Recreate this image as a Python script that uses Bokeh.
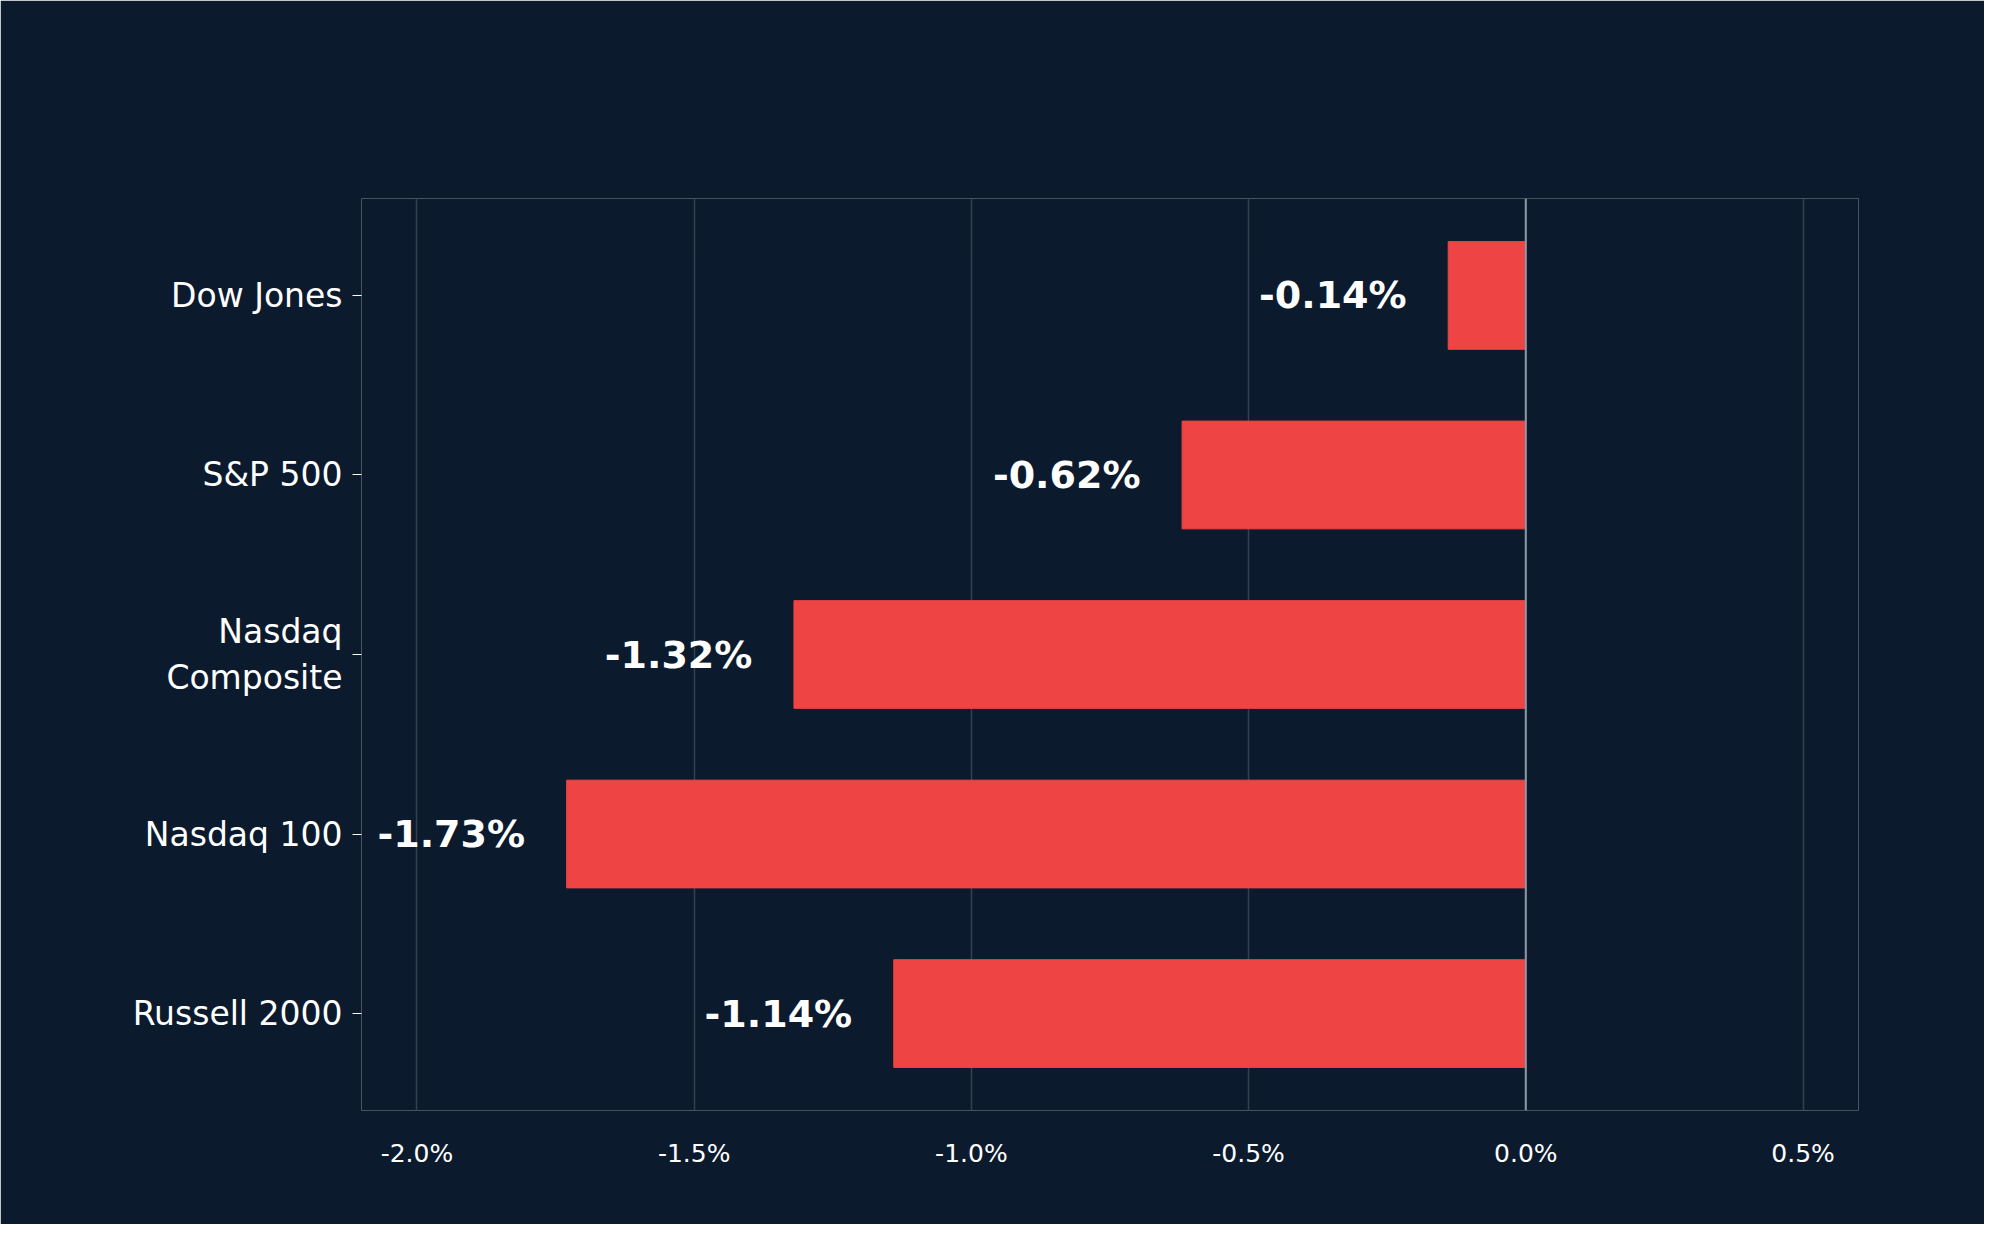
from bokeh.plotting import figure
from bokeh.models import Label, Span, FixedTicker, ColumnDataSource
from bokeh.core.properties import value
from bokeh.embed import file_html
from bokeh.resources import INLINE

indices = ["Dow Jones", "S&P 500", "Nasdaq\nComposite", "Nasdaq 100", "Russell 2000"]
changes = [-0.14, -0.62, -1.32, -1.73, -1.14]
xticks = [-2.0, -1.5, -1.0, -0.5, 0.0, 0.5]
xtick_labels = ["-2.0%", "-1.5%", "-1.0%", "-0.5%", "0.0%", "0.5%"]

BG = "#0c1a2e"
FONT = "DejaVu Sans"
W, H = 1984, 1224
FL, FB = 361, H - 1110
ypos = list(range(len(indices)))
src = ColumnDataSource(dict(y=ypos, v=changes, lx=[c - 0.075 for c in changes],
                            lab=[f"{c:.2f}%" for c in changes]))

p = figure(width=W, height=H, output_backend="svg", toolbar_location=None,
           x_range=(-2.1, 0.6), y_range=(4.54, -0.54),
           background_fill_color=BG, border_fill_color=BG,
           outline_line_color=None, outline_line_alpha=0,
           min_border_left=FL, min_border_right=W - 1858, min_border_top=198,
           min_border_bottom=FB)
p.hbar(y="y", left=0, right="v", height=0.6, color="#ef4444", source=src)
p.text(x="lx", y="y", text="lab", source=src, text_align="right", text_baseline="middle",
       text_color="white", text_font_size="38px", text_font_style="bold",
       text_font=value(FONT))
p.add_layout(Span(location=0, dimension="height", line_color="#8a96a3", line_width=2))

p.xgrid.ticker = FixedTicker(ticks=xticks)
p.xgrid.grid_line_color = "#34404f"
p.xgrid.grid_line_width = 1.5
p.ygrid.grid_line_color = None
p.xaxis.ticker = FixedTicker(ticks=xticks)
p.xaxis.major_label_overrides = {t: l for t, l in zip(xticks, xtick_labels)}
p.xaxis.axis_line_color = None
p.xaxis.major_tick_line_color = None
p.xaxis.minor_tick_line_color = None
p.xaxis.major_label_text_color = "white"
p.xaxis.major_label_text_font_size = "25px"
p.xaxis.major_label_text_font = FONT
p.xaxis.major_label_standoff = 22

p.yaxis.ticker = FixedTicker(ticks=ypos)
p.yaxis.major_label_overrides = {i: n for i, n in zip(ypos, indices)}
p.yaxis.axis_line_color = None
p.yaxis.minor_tick_line_color = None
p.yaxis.major_tick_line_color = "white"
p.yaxis.major_tick_in = 0
p.yaxis.major_tick_out = 9
p.yaxis.major_label_text_color = "white"
p.yaxis.major_label_text_font_size = "33px"
p.yaxis.major_label_text_font = FONT
p.yaxis.major_label_standoff = 10

for txt, ytop, size, style, col in [
    ("Wall Street retrocede en la tarde del martes", 54, "46px", "bold", "#f3f4f6"),
    ("Variación porcentual de los principales índices — hacia las 3:00 p.m., hora de Nueva York", 101, "28px", "italic", "#d4a937"),
    ("Visión Sigma  |  sigma.trade", 1206, "22px", "normal", "#8893a0"),
]:
    p.add_layout(Label(x=1000 - FL, y=(H - ytop) - FB, x_units="screen", y_units="screen",
                       text=txt, text_align="center", text_baseline="middle",
                       text_font_size=size, text_font_style=style, text_color=col,
                       text_font=FONT))

open("out.html", "w").write(file_html(p, INLINE))
